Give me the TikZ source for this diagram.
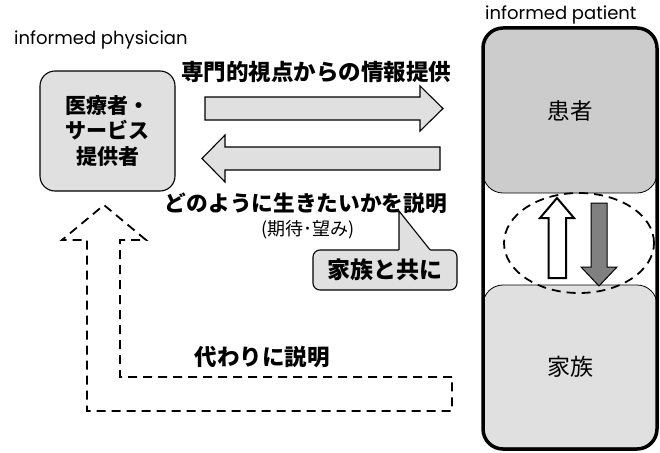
\documentclass[tikz,border=0pt]{standalone}
\usepackage{fontspec}
\setmainfont{Poppins}
\newfontfamily\jp{Noto Sans CJK JP}
\usetikzlibrary{shapes.geometric}
\definecolor{lightfill}{gray}{0.88}
\definecolor{midfill}{gray}{0.80}
\definecolor{darkfill}{gray}{0.50}
\tikzset{
  jfont/.style={font=\jp\fontsize{#1}{#1}\selectfont},
  jbold/.style={font=\jp\bfseries\fontsize{#1}{#1}\selectfont},
  blockarrow/.style={draw=black, line width=1.1pt, fill=lightfill, line join=miter},
  dashline/.style={draw=black, line width=1.8pt, dash pattern=on 9pt off 6pt},
  labeltxt/.style={font=\fontsize{18}{18}\selectfont, inner sep=0pt, anchor=west},
}
\begin{document}
\begin{tikzpicture}[x=1pt,y=-1pt]
\useasboundingbox (0,0) rectangle (660,452);

% labels
\node[labeltxt] (lphys) at (14,40) {informed physician};
\node[labeltxt] (lpat) at (485,15) {informed patient};

% provider box
\node[draw=black, line width=1.1pt, fill=lightfill, rounded corners=15pt,
      minimum width=135pt, minimum height=120pt, inner sep=0pt,
      jbold=21, align=center] (prov) at (107.5,131)
  {医療者・\\[4.5pt]サービス\\[4.5pt]提供者};

% top text
\node[jbold=22.5, inner sep=0pt] (t1) at (316,72) {専門的視点からの情報提供};

% block arrows
\draw[blockarrow] (205,97) -- (420,97) -- (420,86) -- (443,108.5) -- (420,131) -- (420,120) -- (205,120) -- cycle;
\coordinate (rtip) at (443,108.5);
\draw[blockarrow] (440,147) -- (225,147) -- (225,135) -- (202,158.5) -- (225,182) -- (225,170) -- (440,170) -- cycle;
\coordinate (ltip) at (202,158.5);

% bottom text
\node[jbold=21.7, inner sep=0pt] (t2) at (306,203) {どのように生きたいかを説明};
\node[jfont=18, inner sep=0pt] (t3) at (308,230) {(期待･望み)};

% callout
\node[draw=black, line width=1.1pt, fill=lightfill, rounded corners=7pt,
      minimum width=144pt, minimum height=40pt, inner sep=0pt, jbold=23] (cb) at (385,270) {家族と共に};
\coordinate (ctip) at (399,211);
\fill[lightfill] (399,251.5) -- (ctip) -- (431,251.5) -- cycle;
\draw[line width=1.1pt, line join=miter] (399,249.8) -- (ctip) -- (430,249.8);

% right container
\node[fill=midfill, draw=black, line width=0.8pt, rounded corners=20pt,
      minimum width=174pt, minimum height=165pt, inner sep=0pt] (pat) at (570,110.5) {};
\node[jfont=22.5] at (pat) {患者};
\node[fill=lightfill, draw=black, line width=0.8pt, rounded corners=20pt,
      minimum width=174pt, minimum height=163pt, inner sep=0pt] (fam) at (570,366.5) {};
\node[jfont=23] at (fam) {家族};
\draw[line width=3.5pt, rounded corners=20pt] (483,28) rectangle (657,449);

% dashed ellipse
\node[ellipse, dashline, minimum width=150pt, minimum height=100pt, inner sep=0pt] (circ) at (579,243) {};

% up / down arrows
\draw[draw=black, line width=2pt, fill=white, line join=miter]
  (548.5,278) -- (548.5,218) -- (540,218) -- (557,198) -- (574,218) -- (566,218) -- (566,278) -- cycle;
\draw[draw=black, line width=1pt, fill=darkfill, line join=miter]
  (591,203) -- (607,203) -- (607,267) -- (617,267) -- (599,286) -- (581,267) -- (591,267) -- cycle;

% dashed bent arrow
\draw[dashline, line join=miter]
  (452,377) -- (120,377) -- (120,240) -- (146,240) -- (104,205) -- (62,240) -- (87,240) -- (87,411) -- (452,411) -- cycle;
\node[jbold=22.5, inner sep=0pt] (t4) at (262,357) {代わりに説明};
\end{tikzpicture}
\end{document}
